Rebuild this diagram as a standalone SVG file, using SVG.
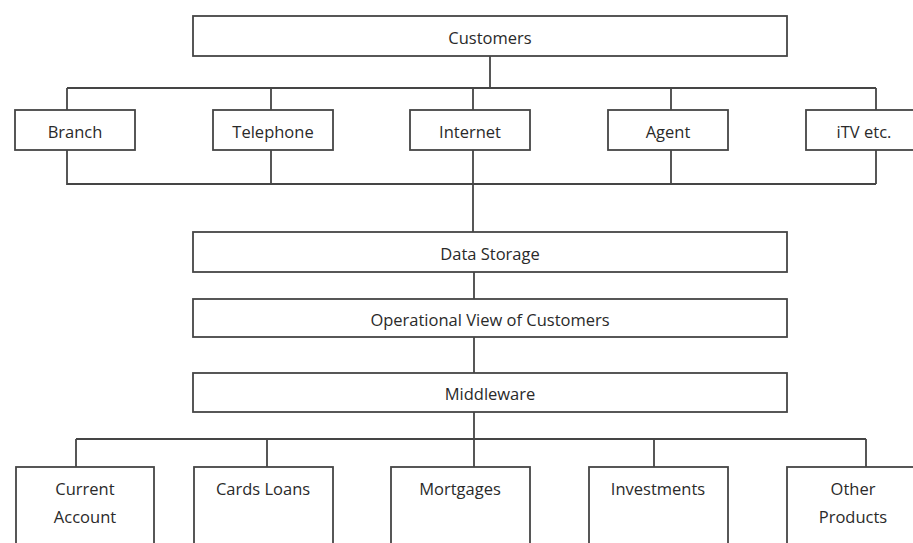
<svg xmlns="http://www.w3.org/2000/svg" width="913" height="543" viewBox="0 0 913 543">
<style>
.box{fill:#fff;stroke:#454545;stroke-width:1.8}
.ln{fill:none;stroke:#454545;stroke-width:1.8}
text{font-family:"Open Sans","Noto Sans",sans-serif;font-size:16.5px;fill:#2a2a2a;text-anchor:middle;dominant-baseline:central}
</style>
<rect width="913" height="543" fill="#fff"/>
<g id="connectors">
<path class="ln" d="M67 88H876M67 88V110M271 88V110M473 88V110M671 88V110M876 88V110"/>
<path class="ln" d="M490 56V88"/>
<path class="ln" d="M67 150V184H876M271 150V184M671 150V184M876 150V184M473 150V232"/>
<path class="ln" d="M474 272V299M474 337V373"/>
<path class="ln" d="M474 412V467M76 439H866M76 439V467M267 439V467M654 439V467M866 439V467"/>
</g>
<g id="customers"><rect class="box" x="193" y="16" width="594" height="40"/><text x="490" y="37">Customers</text></g>
<g id="branch"><rect class="box" x="15" y="110" width="120" height="40"/><text x="75" y="131">Branch</text></g>
<g id="telephone"><rect class="box" x="213" y="110" width="120" height="40"/><text x="273" y="131">Telephone</text></g>
<g id="internet"><rect class="box" x="410" y="110" width="120" height="40"/><text x="470" y="131">Internet</text></g>
<g id="agent"><rect class="box" x="608" y="110" width="120" height="40"/><text x="668" y="131">Agent</text></g>
<g id="itv"><rect class="box" x="806" y="110" width="120" height="40"/><text x="864" y="131">iTV etc.</text></g>
<g id="data-storage"><rect class="box" x="193" y="232" width="594" height="40"/><text x="490" y="253">Data Storage</text></g>
<g id="operational-view"><rect class="box" x="193" y="299" width="594" height="38"/><text x="490" y="319">Operational View of Customers</text></g>
<g id="middleware"><rect class="box" x="193" y="373" width="594" height="39"/><text x="490" y="393">Middleware</text></g>
<g id="current-account"><rect class="box" x="16" y="467" width="138" height="90"/><text x="85" y="488">Current</text><text x="85" y="516">Account</text></g>
<g id="cards-loans"><rect class="box" x="194" y="467" width="139" height="90"/><text x="263" y="488">Cards Loans</text></g>
<g id="mortgages"><rect class="box" x="391" y="467" width="139" height="90"/><text x="460" y="488">Mortgages</text></g>
<g id="investments"><rect class="box" x="589" y="467" width="139" height="90"/><text x="658" y="488">Investments</text></g>
<g id="other-products"><rect class="box" x="787" y="467" width="139" height="90"/><text x="853" y="488">Other</text><text x="853" y="516">Products</text></g>
</svg>
